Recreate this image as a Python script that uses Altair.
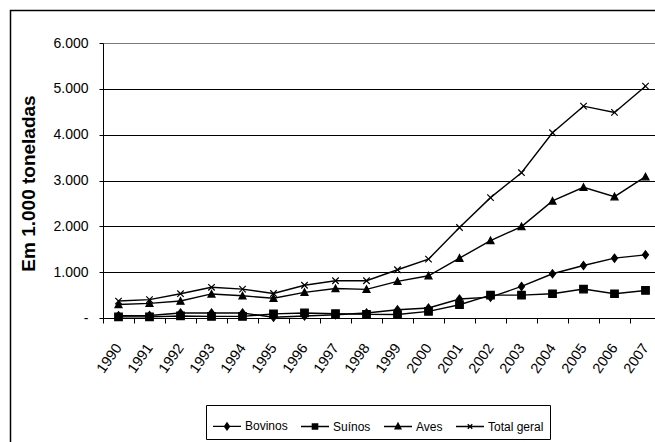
import altair as alt
import pandas as pd

anos = ["1990", "1991", "1992", "1993", "1994", "1995", "1996", "1997", "1998",
        "1999", "2000", "2001", "2002", "2003", "2004", "2005", "2006", "2007"]
series = ["Bovinos", "Suínos", "Aves", "Total geral"]
bovinos = [50, 55, 110, 110, 110, 15, 45, 70, 110, 180, 218, 414, 455, 688, 965, 1145, 1306, 1378]
suinos = [25, 25, 45, 35, 35, 90, 110, 95, 80, 75, 145, 290, 500, 500, 529, 631, 529, 601]
aves = [295, 320, 370, 525, 485, 430, 560, 645, 625, 800, 921, 1306, 1690, 1994, 2554, 2852, 2648, 3083]
total = [370, 400, 530, 670, 630, 535, 715, 812, 812, 1052, 1284, 1975, 2626, 3170, 4041, 4622, 4485, 5058]
y_ticks = [0, 1000, 2000, 3000, 4000, 5000, 6000]

rows = []
for name, vals in zip(series, [bovinos, suinos, aves, total]):
    for a, v in zip(anos, vals):
        rows.append({"Ano": a, "Serie": name, "Valor": v})
df = pd.DataFrame(rows)

marker_paths = [
    "M0,-1L0.75,0L0,1L-0.75,0Z",
    "M-1,-1L1,-1L1,1L-1,1Z",
    "M0,-1L1,0.9L-1,0.9Z",
    "M-1,-1L1,1M-1,1L1,-1",
]
marker_sizes = [64, 42, 64, 34]


def rings(pts, scales):
    # concentric outlines so that a stroked legend symbol looks solid
    out = ""
    for s in scales:
        p = [(x * s, y * s) for x, y in pts]
        out += "M%.3f,%.3f" % p[0] + "".join("L%.3f,%.3f" % q for q in p[1:]) + "Z"
    return out


fill_scales = [1.0, 0.75, 0.5, 0.25, 0.05]
legend_paths = [
    "M-1,0L1,0" + rings([(0, -0.25), (0.18, 0), (0, 0.25), (-0.18, 0)], fill_scales),
    "M-1,0L1,0" + rings([(-0.19, -0.19), (0.19, -0.19), (0.19, 0.19), (-0.19, 0.19)], fill_scales),
    "M-1,0L1,0" + rings([(0, -0.24), (0.21, 0.17), (-0.21, 0.17)], fill_scales),
    "M-1,0L1,0M-0.16,-0.16L0.16,0.16M-0.16,0.16L0.16,-0.16",
]

FONT = "Liberation Sans"
NARROW = "Liberation Sans Narrow, Arial Narrow, Liberation Sans"

x_enc = alt.X(
    "Ano:N",
    sort=anos,
    scale=alt.Scale(type="band", domain=anos, range=[0, 558], paddingInner=0, paddingOuter=0),
    axis=alt.Axis(
        title=None, grid=False, tickBand="extent", tickSize=5, tickColor="black",
        domainColor="black", labelAngle=305, labelAlign="right", labelBaseline="middle",
        labelPadding=22, labelFont=FONT, labelFontSize=14.5, labelColor="black",
        labelOverlap=False,
    ),
)
y_enc = alt.Y(
    "Valor:Q",
    scale=alt.Scale(domain=[0, 6000], nice=False),
    axis=alt.Axis(
        title="Em 1.000 toneladas", values=y_ticks, tickSize=4, tickColor="black",
        domainColor="black", grid=True,
        gridColor=alt.condition("datum.value == 6000", alt.value("#7a7a7a"), alt.value("black")),
        gridWidth=1, labelFont=FONT, labelFontSize=14, labelColor="black", labelPadding=11,
        labelExpr="datum.value == 0 ? '-\u00a0\u00a0\u00a0\u00a0' : replace(format(datum.value, ',.0f'), ',', '.')",
        titleFont=FONT, titleFontSize=19, titleFontWeight="bold", titleColor="black",
        titleAngle=270, titleX=-69, titleY=140, titleAlign="center", titleBaseline="alphabetic",
    ),
)

frame = alt.Chart(pd.DataFrame({"f": [0]})).mark_rect(
    fill="transparent", stroke="black", strokeWidth=1.5
).encode(
    x=alt.value(-92.5), x2=alt.value(700), y=alt.value(-32.5), y2=alt.value(500)
)

lines = alt.Chart(df).mark_line(color="black", strokeWidth=1.4).encode(
    x=x_enc, y=y_enc, detail="Serie:N"
)

points = alt.Chart(df).mark_point(
    filled=True, fill="black", stroke="black", strokeWidth=1.2, opacity=1
).encode(
    x=x_enc, y=y_enc,
    shape=alt.Shape("Serie:N", scale=alt.Scale(domain=series, range=marker_paths), legend=None),
    size=alt.Size("Serie:N", scale=alt.Scale(domain=series, range=marker_sizes), legend=None),
)

legend_layer = alt.Chart(df).transform_filter("datum.Valor < 0").mark_point(
    filled=False, color="black", strokeWidth=1.3, opacity=1
).encode(
    x=x_enc, y=y_enc,
    shape=alt.Shape(
        "Serie:N",
        scale=alt.Scale(domain=series, range=legend_paths),
        legend=alt.Legend(
            title=None, orient="none", legendX=103, legendY=362, direction="horizontal",
            columns=4, strokeColor="black", fillColor="white", padding=6,
            symbolSize=784, symbolStrokeWidth=1.3,
            symbolStrokeColor="black", symbolOpacity=1, labelFont=NARROW,
            labelFontSize=12, labelColor="black", labelOffset=3, columnPadding=10,
        ),
    ),
)

chart = alt.layer(frame, lines, points, legend_layer).resolve_scale(
    shape="independent", size="independent"
).properties(
    width=552, height=275,
    autosize=alt.AutoSizeParams(type="none"),
    padding={"left": 103, "top": 43, "right": 0, "bottom": 124},
    background="white",
).configure_view(stroke=None)

chart.save("out.html", embed_options={"renderer": "svg", "actions": False})
